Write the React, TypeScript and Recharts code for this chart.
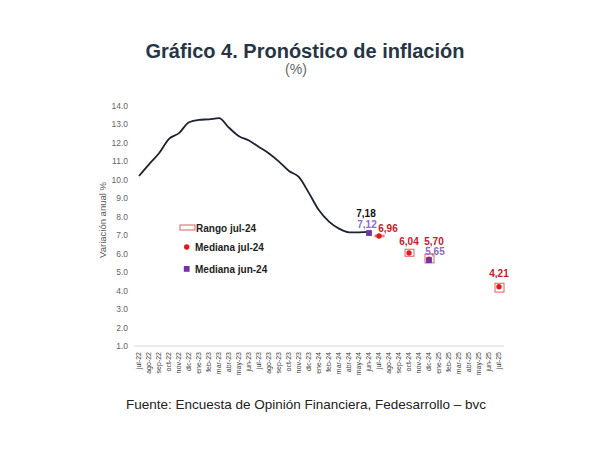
import React from 'react';
import { ComposedChart, Line, Bar, XAxis, YAxis, LabelList } from 'recharts';

const months = ['jul-22','ago-22','sep-22','oct-22','nov-22','dic-22','ene-23','feb-23','mar-23','abr-23','may-23','jun-23','jul-23','ago-23','sep-23','oct-23','nov-23','dic-23','ene-24','feb-24','mar-24','abr-24','may-24','jun-24','jul-24','ago-24','sep-24','oct-24','nov-24','dic-24','ene-25','feb-25','mar-25','abr-25','may-25','jun-25','jul-25'];

const observed = [10.21, 10.84, 11.44, 12.22, 12.53, 13.12, 13.25, 13.28, 13.34, 12.82, 12.36, 12.13, 11.78, 11.43, 10.99, 10.48, 10.15, 9.28, 8.35, 7.74, 7.36, 7.16, 7.16, 7.18];

const forecastMonths = ['jul-24', 'oct-24', 'dic-24', 'jul-25'];
const medianJul = [6.96, 6.04, 5.70, 4.21];
const rangeLow = [6.92, 5.86, 5.50, 3.92];
const rangeHigh = [7.00, 6.24, 5.98, 4.40];

const juneMonths = ['jun-24', 'dic-24'];
const medianJun = [7.12, 5.65];

const yTicks = [1, 2, 3, 4, 5, 6, 7, 8, 9, 10, 11, 12, 13, 14];

const legendLabels = ['Rango jul-24', 'Mediana jul-24', 'Mediana jun-24'];

const data = months.map((m, i) => {
  const fi = forecastMonths.indexOf(m);
  const ji = juneMonths.indexOf(m);
  return {
    m,
    obs: i < observed.length ? observed[i] : null,
    medJul: fi >= 0 ? medianJul[fi] : null,
    lo: fi >= 0 ? rangeLow[fi] : null,
    hi: fi >= 0 ? rangeHigh[fi] : null,
    medJun: ji >= 0 ? medianJun[ji] : null,
  };
});

const FONT = '"Liberation Sans", Arial, sans-serif';
const RED = '#e3191c';
const RED_LABEL = '#c0202a';
const RANGE = '#e06060';
const PURPLE = '#6f35a5';
const PURPLE_LABEL = '#8a6cc4';
const LINE = '#1c2233';

const fmt = (v: number) => v.toFixed(2).replace('.', ',');

const julOffsets: Record<string, [number, number]> = {
  'jul-24': [9, -8], 'oct-24': [0, -12], 'dic-24': [5, -18], 'jul-25': [0, -13],
};
const junOffsets: Record<string, [number, number]> = {
  'jun-24': [-2, -8.5], 'dic-24': [6, -9],
};

const makeLabel = (offsets: Record<string, [number, number]>, color: string) => (props: any) => {
  const { x, y, value, index } = props;
  if (value == null || x == null || y == null) return null;
  const m = data[index]?.m;
  const off = offsets[m] || [0, -12];
  return (
    <text x={x + off[0]} y={y + off[1] + 3.6} textAnchor="middle" fontSize={10} fontWeight="bold" fill={color} fontFamily={FONT}>
      {fmt(value)}
    </text>
  );
};

const lastObsLabel = (props: any) => {
  const { x, y, value, index } = props;
  if (value == null || index !== observed.length - 1) return null;
  return (
    <text x={x - 3} y={y - 18.5 + 3.6} textAnchor="middle" fontSize={10} fontWeight="bold" fill="#111" fontFamily={FONT}>
      {fmt(value)}
    </text>
  );
};

const redDot = (props: any) => {
  const { cx, cy, value, index } = props;
  if (value == null || cy == null) return <g key={`r${index}`} />;
  return <circle key={`r${index}`} cx={cx} cy={cy} r={2.7} fill={RED} />;
};

const purpleDot = (props: any) => {
  const { cx, cy, value, index } = props;
  if (value == null || cy == null) return <g key={`p${index}`} />;
  return <rect key={`p${index}`} x={cx - 2.9} y={cy - 2.9} width={5.8} height={5.8} fill={PURPLE} />;
};

const rangeShape = (props: any) => {
  const { x, y, width, height, payload } = props;
  if (!payload || payload.lo == null) return <g />;
  return <rect x={x} y={y} width={width} height={Math.max(height, 1.5)} fill="#fff" stroke={RANGE} strokeWidth={1} />;
};

const XTick = (props: any) => {
  const { x, y, payload } = props;
  return (
    <g transform={`translate(${x},${y})`}>
      <text transform="rotate(-90)" textAnchor="end" dy="0.35em" fontSize={7} fill="#404040" fontFamily={FONT}>
        {payload.value}
      </text>
    </g>
  );
};

export default function App() {
  return (
    <div style={{ position: 'absolute', left: 0, top: 0, width: 600, height: 450, background: '#fff', fontFamily: FONT }}>
      <ComposedChart width={600} height={450} data={data} margin={{ top: 106, right: 96, bottom: 74, left: 104 }}>
        <XAxis
          dataKey="m"
          interval={0}
          tick={<XTick />}
          tickLine={false}
          tickSize={0}
          tickMargin={6}
          height={30}
          axisLine={{ stroke: '#d9d9d9' }}
        />
        <YAxis
          domain={[1, 14]}
          ticks={yTicks}
          interval={0}
          type="number"
          allowDataOverflow
          width={30}
          axisLine={false}
          tickLine={false}
          tickSize={0}
          tickMargin={6}
          tickFormatter={(v: number) => v.toFixed(1)}
          tick={{ fontSize: 8.5, fill: '#666', fontFamily: FONT }}
        />
        <Bar dataKey={(d: any) => (d.lo != null ? [d.lo, d.hi] : null)} barSize={9} shape={rangeShape} isAnimationActive={false} legendType="none" />
        <Line type="monotone" dataKey="obs" stroke={LINE} strokeWidth={1.8} dot={false} isAnimationActive={false} connectNulls={false}>
          <LabelList dataKey="obs" content={lastObsLabel} />
        </Line>
        <Line dataKey="medJul" stroke="none" dot={redDot} activeDot={false} isAnimationActive={false}>
          <LabelList dataKey="medJul" content={makeLabel(julOffsets, RED_LABEL)} />
        </Line>
        <Line dataKey="medJun" stroke="none" dot={purpleDot} activeDot={false} isAnimationActive={false}>
          <LabelList dataKey="medJun" content={makeLabel(junOffsets, PURPLE_LABEL)} />
        </Line>
      </ComposedChart>
      <svg width={600} height={450} style={{ position: 'absolute', left: 0, top: 0, pointerEvents: 'none' }}>
        <text x={305} y={58} textAnchor="middle" fontSize={20} fontWeight="bold" fill="#263646" fontFamily={FONT}>Gráfico 4. Pronóstico de inflación</text>
        <text x={296} y={74} textAnchor="middle" fontSize={14} fill="#666" fontFamily={FONT}>(%)</text>
        <text x={0} y={0} transform="translate(103,220) rotate(-90)" textAnchor="middle" dy="0.35em" fontSize={9.5} fill="#555" fontFamily={FONT}>Variación anual %</text>
        <text x={306} y={409} textAnchor="middle" fontSize={13.5} fill="#222" fontFamily={FONT}>Fuente: Encuesta de Opinión Financiera, Fedesarrollo – bvc</text>
        <g transform="translate(178,219)">
          <rect x={2} y={6} width={15} height={5} fill="#fff" stroke={RANGE} strokeWidth={1} />
          <text x={18} y={12.5} fontSize={10} fontWeight="bold" fill="#222" fontFamily={FONT}>{legendLabels[0]}</text>
          <circle cx={8.7} cy={28} r={2.7} fill={RED} />
          <text x={17} y={32} fontSize={10} fontWeight="bold" fill="#222" fontFamily={FONT}>{legendLabels[1]}</text>
          <rect x={5.8} y={47} width={5.8} height={5.8} fill={PURPLE} />
          <text x={17} y={53.5} fontSize={10} fontWeight="bold" fill="#222" fontFamily={FONT}>{legendLabels[2]}</text>
        </g>
      </svg>
    </div>
  );
}
